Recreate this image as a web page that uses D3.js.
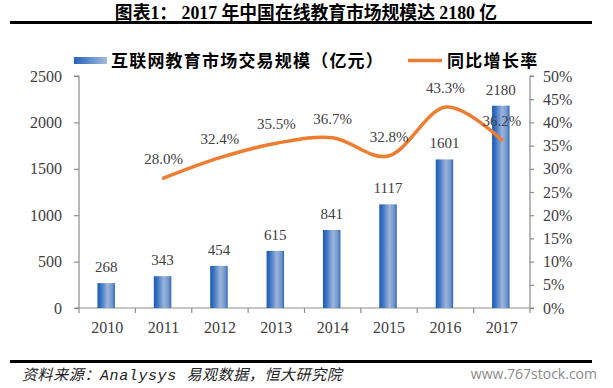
<!DOCTYPE html>
<html><head><meta charset="utf-8">
<script src="https://cdn.jsdelivr.net/npm/d3@7"></script>
<style>
body{margin:0;background:#fff;}
svg{display:block;}
</style></head>
<body><svg id="c" width="613" height="388"></svg>
<script>
const years = ["2010","2011","2012","2013","2014","2015","2016","2017"];
const marketSize = [268, 343, 454, 615, 841, 1117, 1601, 2180];
const growthRate = [null, 28.0, 32.4, 35.5, 36.7, 32.8, 43.3, 36.2];
const leftTicks = [0, 500, 1000, 1500, 2000, 2500];
const rightTicks = [0, 5, 10, 15, 20, 25, 30, 35, 40, 45, 50];
const title = "图表1： 2017 年中国在线教育市场规模达 2180 亿";
const seriesBarName = "互联网教育市场交易规模（亿元）";
const seriesLineName = "同比增长率";
const sourceText = "资料来源：Analysys 易观数据，恒大研究院";
const watermark = "www.767stock.com";

const svg = d3.select("#c");
const M = {l:79, r:530, t:76, b:308};
const serif = "Liberation Serif, Times New Roman, serif";
const cjk = "Liberation Serif, Noto Sans CJK SC, sans-serif";
const txtCol = "#404040";
const axisCol = "#8c8c8c";

const defs = svg.append("defs");
const g1 = defs.append("linearGradient").attr("id","barGrad").attr("x1","0").attr("x2","1").attr("y1","0").attr("y2","0");
g1.append("stop").attr("offset","0%").attr("stop-color","#1a5cb4");
g1.append("stop").attr("offset","20%").attr("stop-color","#3a72c2");
g1.append("stop").attr("offset","58%").attr("stop-color","#9cb5da");
g1.append("stop").attr("offset","85%").attr("stop-color","#6f95cc");
g1.append("stop").attr("offset","100%").attr("stop-color","#2d68bb");
const g2 = defs.append("linearGradient").attr("id","legGrad").attr("x1","0").attr("x2","1").attr("y1","0").attr("y2","0");
g2.append("stop").attr("offset","0%").attr("stop-color","#2563b8");
g2.append("stop").attr("offset","100%").attr("stop-color","#a3badc");

// title
svg.append("text").attr("x",306).attr("y",19).attr("text-anchor","middle")
  .attr("font-family",cjk).attr("font-weight","bold").attr("font-size",17.8).attr("fill","#000").text(title);
svg.append("line").attr("x1",10).attr("x2",592).attr("y1",22.5).attr("y2",22.5).attr("stroke","#000").attr("stroke-width",3);

const x = d3.scaleBand().domain(years).range([M.l, M.r]).paddingInner(0).paddingOuter(0);
const bw = 17.5;
const yL = d3.scaleLinear().domain([0,2500]).range([M.b, M.t]);
const yR = d3.scaleLinear().domain([0,50]).range([M.b, M.t]);

// axes
const axL = d3.axisLeft(yL).tickValues(leftTicks).tickSize(5).tickPadding(12).tickFormat(d3.format("d"));
const axR = d3.axisRight(yR).tickValues(rightTicks).tickSize(4).tickPadding(9).tickFormat(d=>d+"%");
const gl = svg.append("g").attr("transform",`translate(${M.l},0)`).call(axL);
const gr = svg.append("g").attr("transform",`translate(${M.r},0)`).call(axR);
[gl,gr].forEach(g=>{
  g.attr("font-family",serif).attr("font-size",16);
  g.select(".domain").attr("stroke",axisCol).attr("stroke-width",1.2);
  g.selectAll(".tick line").attr("stroke",axisCol).attr("stroke-width",1.2);
  g.selectAll(".tick text").attr("fill",txtCol);
});
gl.select(".domain").attr("d",`M-5,${M.t}H0V${M.b}`);
gr.select(".domain").attr("d",`M4,${M.t}H0V${M.b}`);

// x axis
const gx = svg.append("g").attr("transform",`translate(0,${M.b})`);
gx.append("line").attr("x1",M.l-4).attr("x2",M.r+4).attr("stroke",axisCol).attr("stroke-width",1.2);
const bounds = years.map(d=>x(d)).concat([x(years[years.length-1])+x.bandwidth()]);
gx.selectAll("line.tk").data(bounds).join("line").attr("class","tk")
  .attr("x1",d=>d).attr("x2",d=>d).attr("y1",0).attr("y2",5).attr("stroke",axisCol).attr("stroke-width",1.2);
gx.selectAll("text").data(years).join("text")
  .attr("x",d=>x(d)+x.bandwidth()/2).attr("y",25).attr("text-anchor","middle")
  .attr("font-family",serif).attr("font-size",16).attr("fill",txtCol).text(d=>d);

// bars
svg.selectAll("rect.bar").data(marketSize).join("rect").attr("class","bar")
  .attr("x",(d,i)=>x(years[i])+x.bandwidth()/2-bw/2-1).attr("width",bw)
  .attr("y",d=>yL(d)).attr("height",d=>M.b-yL(d)).attr("fill","url(#barGrad)");
svg.selectAll("text.bl").data(marketSize).join("text").attr("class","bl")
  .attr("x",(d,i)=>x(years[i])+x.bandwidth()/2-1).attr("y",d=>yL(d)-11)
  .attr("text-anchor","middle").attr("font-family",serif).attr("font-size",15).attr("fill",txtCol).text(d=>d);

// line
const pts = growthRate.map((v,i)=>v==null?null:[x(years[i])+x.bandwidth()/2, yR(v)]).filter(p=>p);
const line = d3.line().curve(d3.curveCardinal.tension(0));
svg.append("path").attr("d",line(pts)).attr("fill","none").attr("stroke","#ED7D31")
  .attr("stroke-width",3.5).attr("stroke-linecap","round");
svg.selectAll("text.pl").data(growthRate.map((v,i)=>({v,i})).filter(d=>d.v!=null)).join("text").attr("class","pl")
  .attr("x",d=>x(years[d.i])+x.bandwidth()/2).attr("y",d=>yR(d.v)-14)
  .attr("text-anchor","middle").attr("font-family",serif).attr("font-size",15).attr("fill",txtCol)
  .text(d=>d.v.toFixed(1)+"%");

// legend
svg.append("rect").attr("x",74).attr("y",57).attr("width",33).attr("height",7).attr("fill","url(#legGrad)");
svg.append("text").attr("x",111).attr("y",67).attr("font-family",cjk).attr("font-weight","bold")
  .attr("font-size",17).attr("letter-spacing",1.2).attr("fill","#000").text(seriesBarName);
svg.append("line").attr("x1",408).attr("x2",442).attr("y1",60.5).attr("y2",60.5).attr("stroke","#ED7D31").attr("stroke-width",3.5);
svg.append("text").attr("x",447).attr("y",67).attr("font-family",cjk).attr("font-weight","bold")
  .attr("font-size",17).attr("letter-spacing",1.3).attr("fill","#000").text(seriesLineName);

// footer
svg.append("line").attr("x1",10).attr("x2",592).attr("y1",361.5).attr("y2",361.5).attr("stroke","#000").attr("stroke-width",3);
svg.append("text").attr("x",22).attr("y",380).attr("font-family","Liberation Mono, Noto Sans CJK SC, monospace")
  .attr("font-style","italic").attr("font-size",15).attr("letter-spacing",0.6).attr("fill","#222").text(sourceText);
svg.append("text").attr("x",597).attr("y",379).attr("text-anchor","end").attr("font-family","Open Sans, DejaVu Sans, sans-serif")
  .attr("font-size",14).attr("fill","#8a8a8a").text(watermark);
</script></body></html>
